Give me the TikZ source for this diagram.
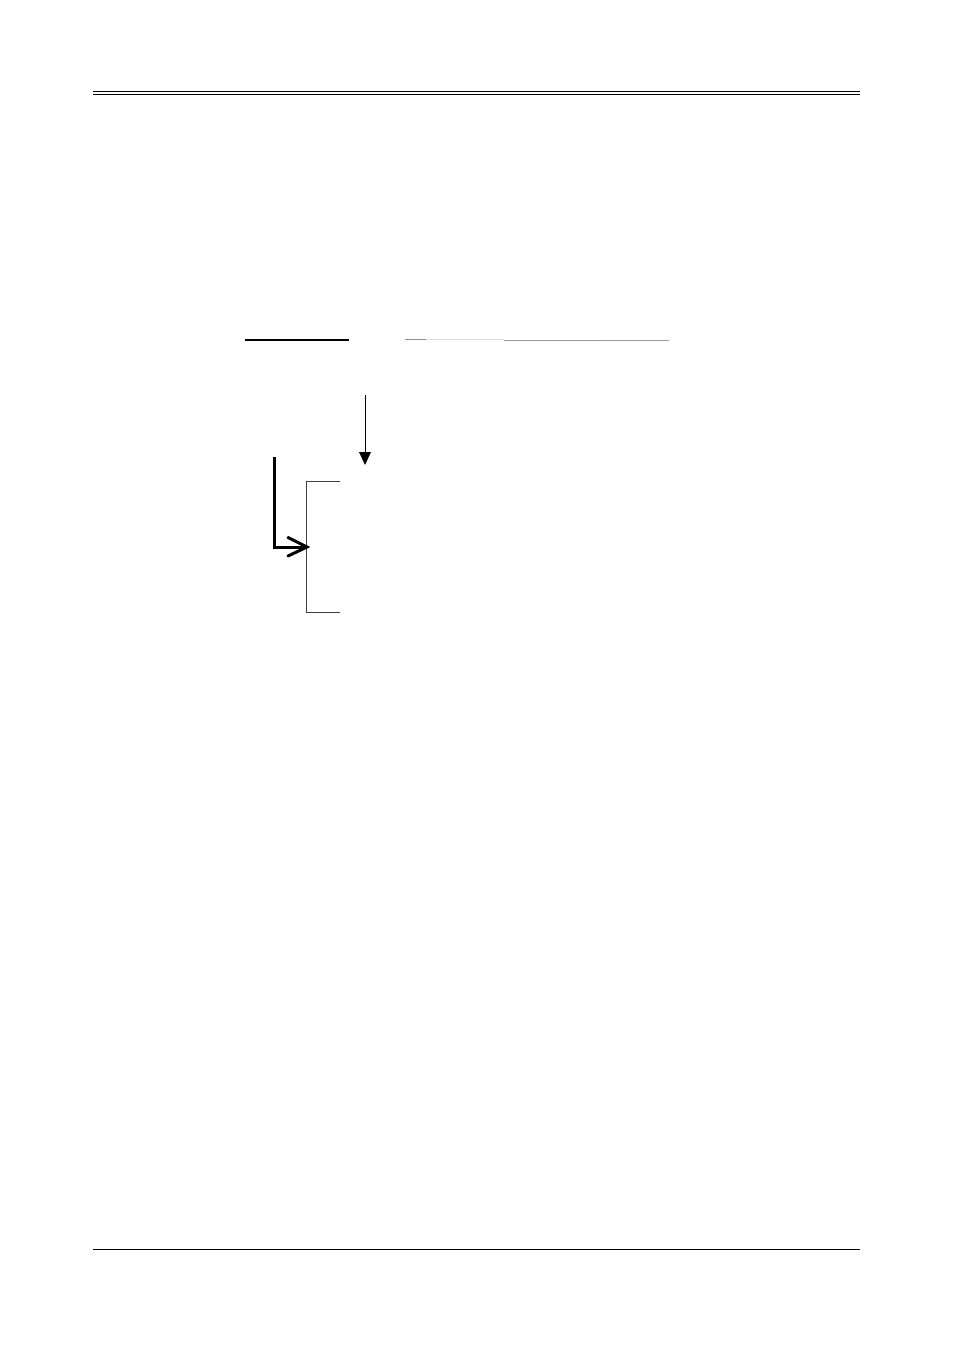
\documentclass[tikz,border=0pt]{standalone}
\begin{document}
\begin{tikzpicture}[x=1pt,y=-1pt,
  rule/.style={line width=1.3pt,black},
  thinbr/.style={line width=0.8pt,black!75}]
\useasboundingbox[fill=white] (0,0) rectangle (954,1351);
% header double rule
\draw[line width=1.4pt] (93,91.5) -- (860,91.5);
\draw[line width=1.4pt] (93,94.5) -- (860,94.5);
% footer rule
\draw[rule] (93,1249.5) -- (860,1249.5);
% short black line
\draw[rule] (245,340) -- (349,340);
% gray line segments
\draw[line width=1.2pt,black!45] (405,339.5) -- (426,339.5);
\draw[line width=1.2pt,black!13] (426,339.5) -- (504,339.5);
\draw[line width=1.2pt,black!40] (504,340.3) -- (597,340.3);
\draw[line width=1.2pt,black!38] (597,340.5) -- (669,340.5);
% down arrow
\coordinate (dtop) at (365,395);
\coordinate (dtip) at (365,465);
\draw[line width=1pt] (dtop) -- (365,454);
\fill (359,452) -- (371,452) -- (dtip) -- cycle;
% bracket
\coordinate (bt) at (340,481);
\coordinate (bb) at (340,612);
\draw[thinbr] (bt) -- (306,481) -- (306,612) -- (bb);
% thick elbow arrow
\coordinate (ktop) at (274,457);
\coordinate (ktip) at (307,547);
\draw[line width=3pt] (ktop) -- (274,547) -- (ktip);
\draw[line width=3pt,line cap=round,line join=miter] (288,537.5) -- (ktip) -- (288,556);
\end{tikzpicture}
\end{document}
